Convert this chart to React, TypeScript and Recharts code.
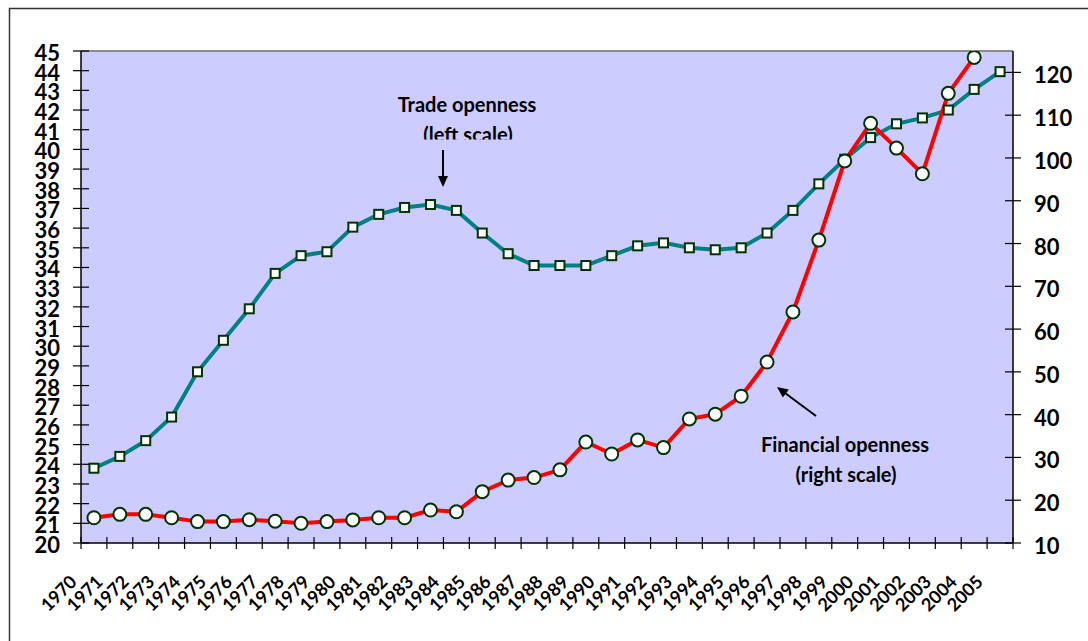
import React from 'react';
import { LineChart, Line, XAxis, YAxis, CartesianGrid, ReferenceLine } from 'recharts';

const years = [
  1970, 1971, 1972, 1973, 1974, 1975, 1976, 1977, 1978, 1979,
  1980, 1981, 1982, 1983, 1984, 1985, 1986, 1987, 1988, 1989,
  1990, 1991, 1992, 1993, 1994, 1995, 1996, 1997, 1998, 1999,
  2000, 2001, 2002, 2003, 2004, 2005,
];

// Trade openness (left scale)
const tradeOpenness = [
  23.8, 24.4, 25.2, 26.4, 28.7, 30.3, 31.9, 33.7, 34.6, 34.8,
  36.05, 36.7, 37.05, 37.2, 36.9, 35.75, 34.7, 34.1, 34.1, 34.1,
  34.6, 35.1, 35.25, 35.0, 34.9, 35.0, 35.75, 36.9, 38.25, 39.5,
  40.6, 41.3, 41.6, 42.0, 43.05, 43.95,
];

// Financial openness (right scale)
const financialOpenness: (number | null)[] = [
  15.9, 16.7, 16.7, 15.9, 15.0, 15.0, 15.45, 15.1, 14.6, 15.0,
  15.4, 15.9, 15.9, 17.7, 17.3, 22.0, 24.7, 25.3, 27.1, 33.6,
  30.8, 34.1, 32.3, 39.0, 40.1, 44.3, 52.3, 64.0, 80.8, 99.3,
  108.1, 102.3, 96.3, 115.1, 123.5, null,
];

const leftTicks = [20, 21, 22, 23, 24, 25, 26, 27, 28, 29, 30, 31, 32, 33, 34, 35, 36, 37, 38, 39, 40, 41, 42, 43, 44, 45];
const rightTicks = [10, 20, 30, 40, 50, 60, 70, 80, 90, 100, 110, 120];

const data = years.map((year, i) => ({
  year,
  trade: tradeOpenness[i],
  financial: financialOpenness[i],
}));

const xBoundaries = years.map((y) => y - 0.5).concat([years[years.length - 1] + 0.5]);

const FONT = 'Lato, "Open Sans", sans-serif';
const MARKER_STROKE = '#003300';

const LeftTick = (props: any) => {
  const { x, y, payload } = props;
  return (
    <g>
      <line x1={x - 8} x2={x + 8} y1={y} y2={y} stroke="#000" strokeWidth={1.2} />
      <text x={x - 21} y={y + 10} textAnchor="end" fontFamily={FONT} fontWeight={700} fontSize={22} fill="#000">
        {payload.value}
      </text>
    </g>
  );
};

const RightTick = (props: any) => {
  const { x, y, payload } = props;
  return (
    <g>
      <line x1={x - 8} x2={x + 8} y1={y} y2={y} stroke="#000" strokeWidth={1.2} />
      <text x={x + 21} y={y + 11} textAnchor="start" fontFamily={FONT} fontWeight={700} fontSize={22} fill="#000">
        {payload.value}
      </text>
    </g>
  );
};

const XTick = (props: any) => {
  const { x, y, payload } = props;
  const yr = payload.value + 0.5;
  const show = years.includes(yr);
  return (
    <g>
      <line x1={x} x2={x} y1={y - 6} y2={y + 6} stroke="#000" strokeWidth={1.2} />
      {show && (
        <text
          transform={`translate(${x - 3},${y + 40}) rotate(-45)`}
          textAnchor="end"
          fontFamily={FONT}
          fontWeight={700}
          fontSize={18}
          fill="#000"
        >
          {yr}
        </text>
      )}
    </g>
  );
};

const SquareDot = (props: any) => {
  const { cx, cy, index } = props;
  if (cx == null || cy == null) return <g key={`sq-${index}`} />;
  return (
    <rect
      key={`sq-${index}`}
      x={cx - 4.5}
      y={cy - 4.5}
      width={9}
      height={9}
      fill="#fff"
      stroke={MARKER_STROKE}
      strokeWidth={2}
    />
  );
};

const CircleDot = (props: any) => {
  const { cx, cy, index } = props;
  if (cx == null || cy == null) return <g key={`ci-${index}`} />;
  return <circle key={`ci-${index}`} cx={cx} cy={cy} r={6.5} fill="#fff" stroke={MARKER_STROKE} strokeWidth={2} />;
};

const arrowHead = (x1: number, y1: number, x2: number, y2: number, len: number, half: number) => {
  const dx = x2 - x1;
  const dy = y2 - y1;
  const d = Math.sqrt(dx * dx + dy * dy);
  const ux = dx / d;
  const uy = dy / d;
  const bx = x2 - ux * len;
  const by = y2 - uy * len;
  const px = -uy;
  const py = ux;
  return `${x2},${y2} ${bx + px * half},${by + py * half} ${bx - px * half},${by - py * half}`;
};

export default function App() {
  return (
    <div style={{ position: 'absolute', left: 0, top: 0, width: 1088, height: 641, background: '#fff' }}>
      <LineChart
        width={1088}
        height={641}
        data={data}
        margin={{ top: 51, right: 15, bottom: 38, left: 21 }}
      >
        <CartesianGrid yAxisId="left" horizontal={false} vertical={false} fill="#CCCCFF" fillOpacity={1} stroke="none" />
        <XAxis
          type="number"
          dataKey="year"
          domain={[years[0] - 0.5, years[years.length - 1] + 0.5]}
          ticks={xBoundaries}
          interval={0}
          tickSize={0}
          tickMargin={0}
          tick={XTick}
          height={60}
          axisLine={{ stroke: '#000', strokeWidth: 1.5 }}
          tickLine={false}
        />
        <YAxis
          yAxisId="left"
          orientation="left"
          domain={[20, 45]}
          ticks={leftTicks}
          interval={0}
          tickSize={0}
          tickMargin={0}
          tick={LeftTick}
          width={60}
          axisLine={{ stroke: '#000', strokeWidth: 1.5 }}
          tickLine={false}
          allowDataOverflow
        />
        <YAxis
          yAxisId="right"
          orientation="right"
          domain={[10, 125]}
          ticks={rightTicks}
          interval={0}
          tickSize={0}
          tickMargin={0}
          tick={RightTick}
          width={60}
          axisLine={{ stroke: '#000', strokeWidth: 1.5 }}
          tickLine={false}
          allowDataOverflow
        />
        <ReferenceLine yAxisId="left" y={45} stroke="#8c8c8c" strokeWidth={2} />
        <Line
          yAxisId="left"
          type="linear"
          dataKey="trade"
          stroke="#008080"
          strokeWidth={4}
          dot={SquareDot}
          isAnimationActive={false}
        />
        <Line
          yAxisId="right"
          type="linear"
          dataKey="financial"
          stroke="#FF0000"
          strokeWidth={4}
          dot={CircleDot}
          isAnimationActive={false}
        />
      </LineChart>
      <svg
        width={1088}
        height={641}
        style={{ position: 'absolute', left: 0, top: 0, pointerEvents: 'none' }}
      >
        <defs>
          <clipPath id="leftScaleClip">
            <rect x={0} y={0} width={1088} height={139.5} />
          </clipPath>
        </defs>
        <line x1={9.5} y1={8} x2={9.5} y2={641} stroke="#333" strokeWidth={1.5} />
        <line x1={9} y1={8.5} x2={1088} y2={8.5} stroke="#333" strokeWidth={1.5} />
        <g fontFamily={FONT} fontWeight={700} fontSize={20} fill="#000" textAnchor="middle">
          <text x={467} y={112}>Trade openness</text>
          <text x={468} y={141.5} clipPath="url(#leftScaleClip)">(left scale)</text>
          <text x={845} y={452}>Financial openness</text>
          <text x={846} y={482}>(right scale)</text>
        </g>
        <line x1={443} y1={150} x2={443} y2={180} stroke="#000" strokeWidth={2} />
        <polygon points={arrowHead(443, 150, 443, 187, 11, 5)} fill="#000" />
        <line x1={816} y1={416} x2={783} y2={391.5} stroke="#000" strokeWidth={2} />
        <polygon points={arrowHead(816, 416, 777, 387, 11, 5)} fill="#000" />
      </svg>
    </div>
  );
}
